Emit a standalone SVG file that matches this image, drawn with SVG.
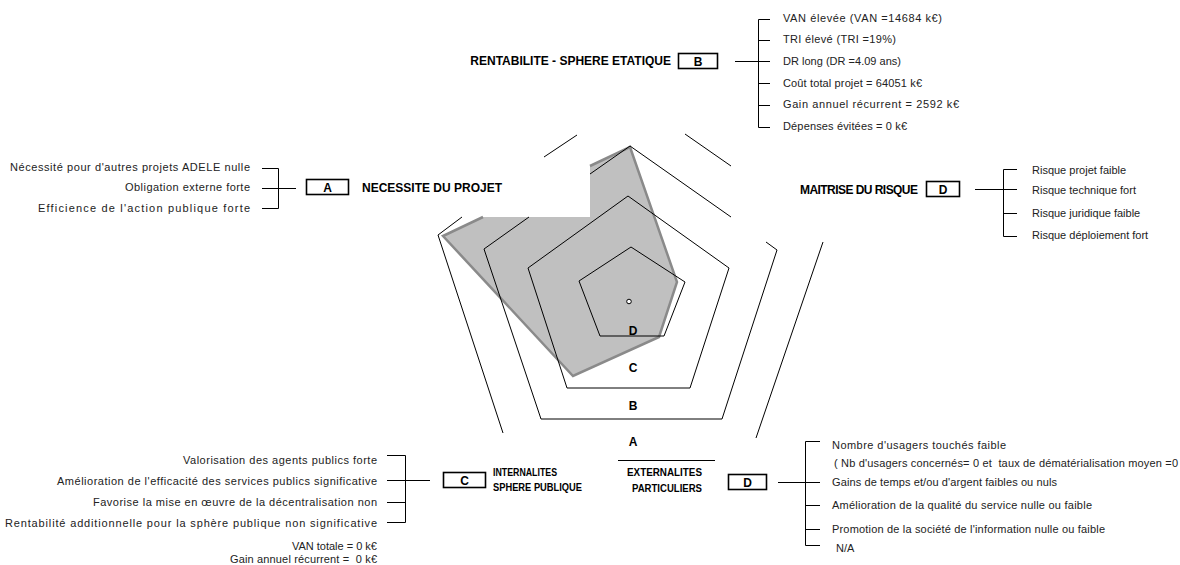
<svg xmlns="http://www.w3.org/2000/svg" width="1180" height="565" viewBox="0 0 1180 565">
<style>
  text { font-family: "Liberation Sans", Arial, sans-serif; }
  .t { font-size: 11px; fill: #222; white-space: pre; }
  .e { text-anchor: end; }
  .h { font-size: 12px; font-weight: bold; fill: #000; }
  .hs { font-size: 11px; font-weight: bold; fill: #000; }
  .c { text-anchor: middle; }
  .ln { stroke: #000; stroke-width: 1; fill: none; }
  .box { fill: #fff; stroke: #000; stroke-width: 1.6; }
  .ring { stroke: #000; stroke-width: 1; fill: none; }
</style>
<rect width="1180" height="565" fill="#fff"/>

<g id="radar">
  <polygon points="443,236 483,217 590,217 590,166 630,147 677,282 659,337 573,376" fill="#c0c0c0"/>
  <polyline points="483,217 443,236 573,376 659,337 677,282 630,147 590,166" fill="none" stroke="#8a8a8a" stroke-width="2.5" stroke-linejoin="miter"/>
  <polygon class="ring" points="628,196 729,268 690,388 567,388 528,268"/>
  <polygon class="ring" points="631,247 685,282 664,336 600,336 579,281"/>
  <polyline class="ring" points="590,174 630,146 731,217"/>
  <polyline class="ring" points="766,242 777,250 722,419 541,419 484,249 529,217"/>
  <polyline class="ring" points="462,217 438,235 503,433"/>
  <line class="ring" x1="544" y1="157" x2="577" y2="135"/>
  <line class="ring" x1="685" y1="134" x2="731" y2="166"/>
  <line class="ring" x1="823" y1="242" x2="756" y2="438"/>
  <line class="ring" x1="618" y1="460.5" x2="715" y2="460.5"/>
  <circle cx="629" cy="301.5" r="2.3" fill="#fff" stroke="#000" stroke-width="1"/>
  <text class="h c" x="633" y="335">D</text>
  <text class="h c" x="633" y="372">C</text>
  <text class="h c" x="633" y="410">B</text>
  <text class="h c" x="633" y="446">A</text>
</g>

<g id="node-B">
  <text class="h e" x="671" y="65">RENTABILITE - SPHERE ETATIQUE</text>
  <rect class="box" x="678.5" y="53.5" width="39" height="15"/>
  <text class="h c" x="698" y="66">B</text>
</g>
<g id="list-B">
  <text class="t" x="783" y="22" textLength="159">VAN élevée (VAN =14684 k€)</text>
  <text class="t" x="783" y="43" textLength="113">TRI élevé (TRI =19%)</text>
  <text class="t" x="783" y="65" textLength="118">DR long (DR =4.09 ans)</text>
  <text class="t" x="783" y="87" textLength="139">Coût total projet = 64051 k€</text>
  <text class="t" x="783" y="108" textLength="176">Gain annuel récurrent = 2592 k€</text>
  <text class="t" x="783" y="130" textLength="124">Dépenses évitées = 0 k€</text>
</g>

<g id="node-A">
  <rect class="box" x="306.5" y="179.5" width="42" height="15"/>
  <text class="h c" x="327.5" y="192">A</text>
  <text class="h" x="362" y="192">NECESSITE DU PROJET</text>
</g>
<g id="list-A">
  <text class="t e" x="250" y="171" textLength="240">Nécessité pour d'autres projets ADELE nulle</text>
  <text class="t e" x="250" y="191" textLength="125">Obligation externe forte</text>
  <text class="t e" x="250" y="212" textLength="212">Efficience de l'action publique forte</text>
</g>

<g id="node-D-risque">
  <text class="h e" x="918" y="194" textLength="118">MAITRISE DU RISQUE</text>
  <rect class="box" x="926.5" y="181.5" width="33" height="15"/>
  <text class="h c" x="943" y="194">D</text>
</g>
<g id="list-D-risque">
  <text class="t" x="1032" y="174">Risque projet faible</text>
  <text class="t" x="1032" y="194">Risque technique fort</text>
  <text class="t" x="1032" y="217">Risque juridique faible</text>
  <text class="t" x="1032" y="239">Risque déploiement fort</text>
</g>

<g id="node-C">
  <rect class="box" x="443.5" y="472.5" width="42" height="15"/>
  <text class="h c" x="464.5" y="485">C</text>
  <text class="hs" x="493" y="476" textLength="64" lengthAdjust="spacingAndGlyphs">INTERNALITES</text>
  <text class="hs" x="493" y="491" textLength="89" lengthAdjust="spacingAndGlyphs">SPHERE PUBLIQUE</text>
</g>
<g id="list-C">
  <text class="t e" x="377" y="464" textLength="194">Valorisation des agents publics forte</text>
  <text class="t e" x="377" y="485" textLength="320">Amélioration de l'efficacité des services publics significative</text>
  <text class="t e" x="377" y="506" textLength="284">Favorise la mise en œuvre de la décentralisation non</text>
  <text class="t e" x="377" y="527" textLength="372">Rentabilité additionnelle pour la sphère publique non significative</text>
  <text class="t e" x="377" y="550">VAN totale = 0 k€</text>
  <text class="t e" x="377" y="563" textLength="147">Gain annuel récurrent =  0 k€</text>
</g>

<g id="node-D-ext">
  <text class="hs e" x="702" y="476" textLength="75" lengthAdjust="spacingAndGlyphs">EXTERNALITES</text>
  <text class="hs e" x="702" y="492" textLength="70" lengthAdjust="spacingAndGlyphs">PARTICULIERS</text>
  <rect class="box" x="728.5" y="474.5" width="38" height="15"/>
  <text class="h c" x="747.5" y="487">D</text>
</g>
<g id="list-D-ext">
  <text class="t" x="832" y="449" textLength="174">Nombre d'usagers touchés faible</text>
  <text class="t" x="834" y="467" textLength="344">( Nb d'usagers concernés= 0 et  taux de dématérialisation moyen =0</text>
  <text class="t" x="832" y="486" textLength="225">Gains de temps et/ou d'argent faibles ou nuls</text>
  <text class="t" x="832" y="509" textLength="260">Amélioration de la qualité du service nulle ou faible</text>
  <text class="t" x="832" y="533" textLength="273">Promotion de la société de l'information nulle ou faible</text>
  <text class="t" x="836" y="552">N/A</text>
</g>

<g id="connectors">
  <path class="ln" d="M735 61.5 H758.5 M770 19.5 H758.5 V127.5 H770 M758.5 40.5 H770 M758.5 61.5 H770 M758.5 83.5 H770 M758.5 105.5 H770"/>
  <path class="ln" d="M262 168.5 H278.5 V208.5 H262 M262 188.5 H296"/>
  <path class="ln" d="M975 189.5 H1003.5 M1017 169.5 H1003.5 V236.5 H1017 M1003.5 189.5 H1017 M1003.5 213.5 H1017"/>
  <path class="ln" d="M387 455.5 H405.5 V522.5 H387 M387 480.5 H430 M387 502.5 H405.5"/>
  <path class="ln" d="M778 482.5 H805.5 M820 441.5 H805.5 V545.5 H820 M805.5 482.5 H820 M805.5 505.5 H820 M805.5 529.5 H820"/>
</g>
</svg>
